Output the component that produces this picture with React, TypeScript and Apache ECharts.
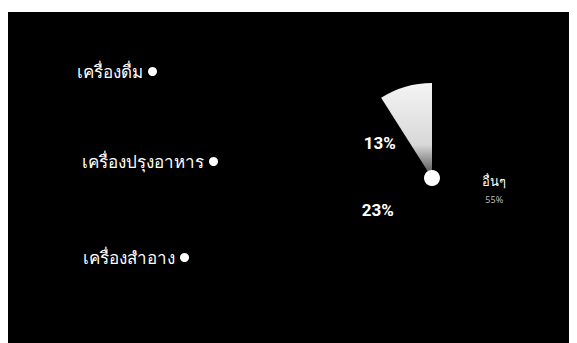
import React, { useEffect, useRef } from "react";
import * as echarts from "echarts";

const categories = ["อื่นๆ", "เครื่องปรุงอาหาร", "เครื่องสำอาง", "เครื่องดื่ม"];
const values = [55, 23, 13, 9];
const legendNames = ["เครื่องดื่ม", "เครื่องปรุงอาหาร", "เครื่องสำอาง"];
const legendTops = [46, 136, 232];
const legendLefts = [64, 69, 70];
const sliceColors = ["#000", "#000", "#000", "#f0f0f0"];

export default function App() {
  const ref = useRef<HTMLDivElement>(null);
  useEffect(() => {
    if (!ref.current) return;
    const chart = echarts.init(ref.current, null, { renderer: "svg" });
    const font = "'Noto Sans', 'DejaVu Sans', sans-serif";
    const wedge = new echarts.graphic.LinearGradient(0, 0, 0, 1, [
      { offset: 0, color: "#f4f4f4" },
      { offset: 0.65, color: "#d8d8d8" },
      { offset: 1, color: "#444" },
    ]);
    chart.setOption({
      animation: false,
      backgroundColor: "#000",
      legend: legendNames.map((n, i) => ({
        orient: "vertical",
        left: legendLefts[i],
        top: legendTops[i],
        align: "right",
        icon: "circle",
        itemWidth: 9,
        itemHeight: 9,
        data: [{ name: n, itemStyle: { color: "#fff" } }],
        textStyle: { color: "#fff", fontSize: 17, fontFamily: font },
      })),
      series: [
        {
          type: "pie",
          center: [424, 166],
          radius: [0, 95],
          startAngle: 90,
          clockwise: true,
          silent: true,
          label: { show: false },
          labelLine: { show: false },
          data: categories.map((n, i) => ({
            name: n,
            value: values[i],
            itemStyle: { color: i === 3 ? wedge : sliceColors[i], borderWidth: 0 },
          })),
        },
        {
          type: "pie",
          center: [424, 166],
          radius: [30, 90],
          startAngle: 90,
          clockwise: true,
          silent: true,
          data: categories.map((n, i) => ({
            name: n,
            value: values[i],
            itemStyle: { color: "rgba(0,0,0,0)", borderWidth: 0 },
            label:
              i === 0
                ? {
                    show: true,
                    formatter: "{n|{b}}\n{p|{d}%}",
                    rich: {
                      n: { color: "#fff", fontSize: 13, fontFamily: font, lineHeight: 24 },
                      p: { color: "#bbb", fontSize: 9, fontFamily: font, lineHeight: 14 },
                    },
                  }
                : i === 3
                ? { show: false }
                : {
                    show: true,
                    formatter: "{d}%",
                    color: "#fff",
                    fontSize: 17,
                    fontWeight: "bold",
                    fontFamily: "Roboto, sans-serif",
                  },
          })),
          label: { position: "inside" },
          labelLine: { show: false },
        },
        {
          type: "pie",
          center: [424, 166],
          radius: [0, 8],
          silent: true,
          label: { show: false },
          labelLine: { show: false },
          data: [{ name: "center", value: 1, itemStyle: { color: "#fff" } }],
        },
      ],
    });
    return () => chart.dispose();
  }, []);
  return <div ref={ref} style={{ width: 569, height: 331, marginTop: 4 }} />;
}
